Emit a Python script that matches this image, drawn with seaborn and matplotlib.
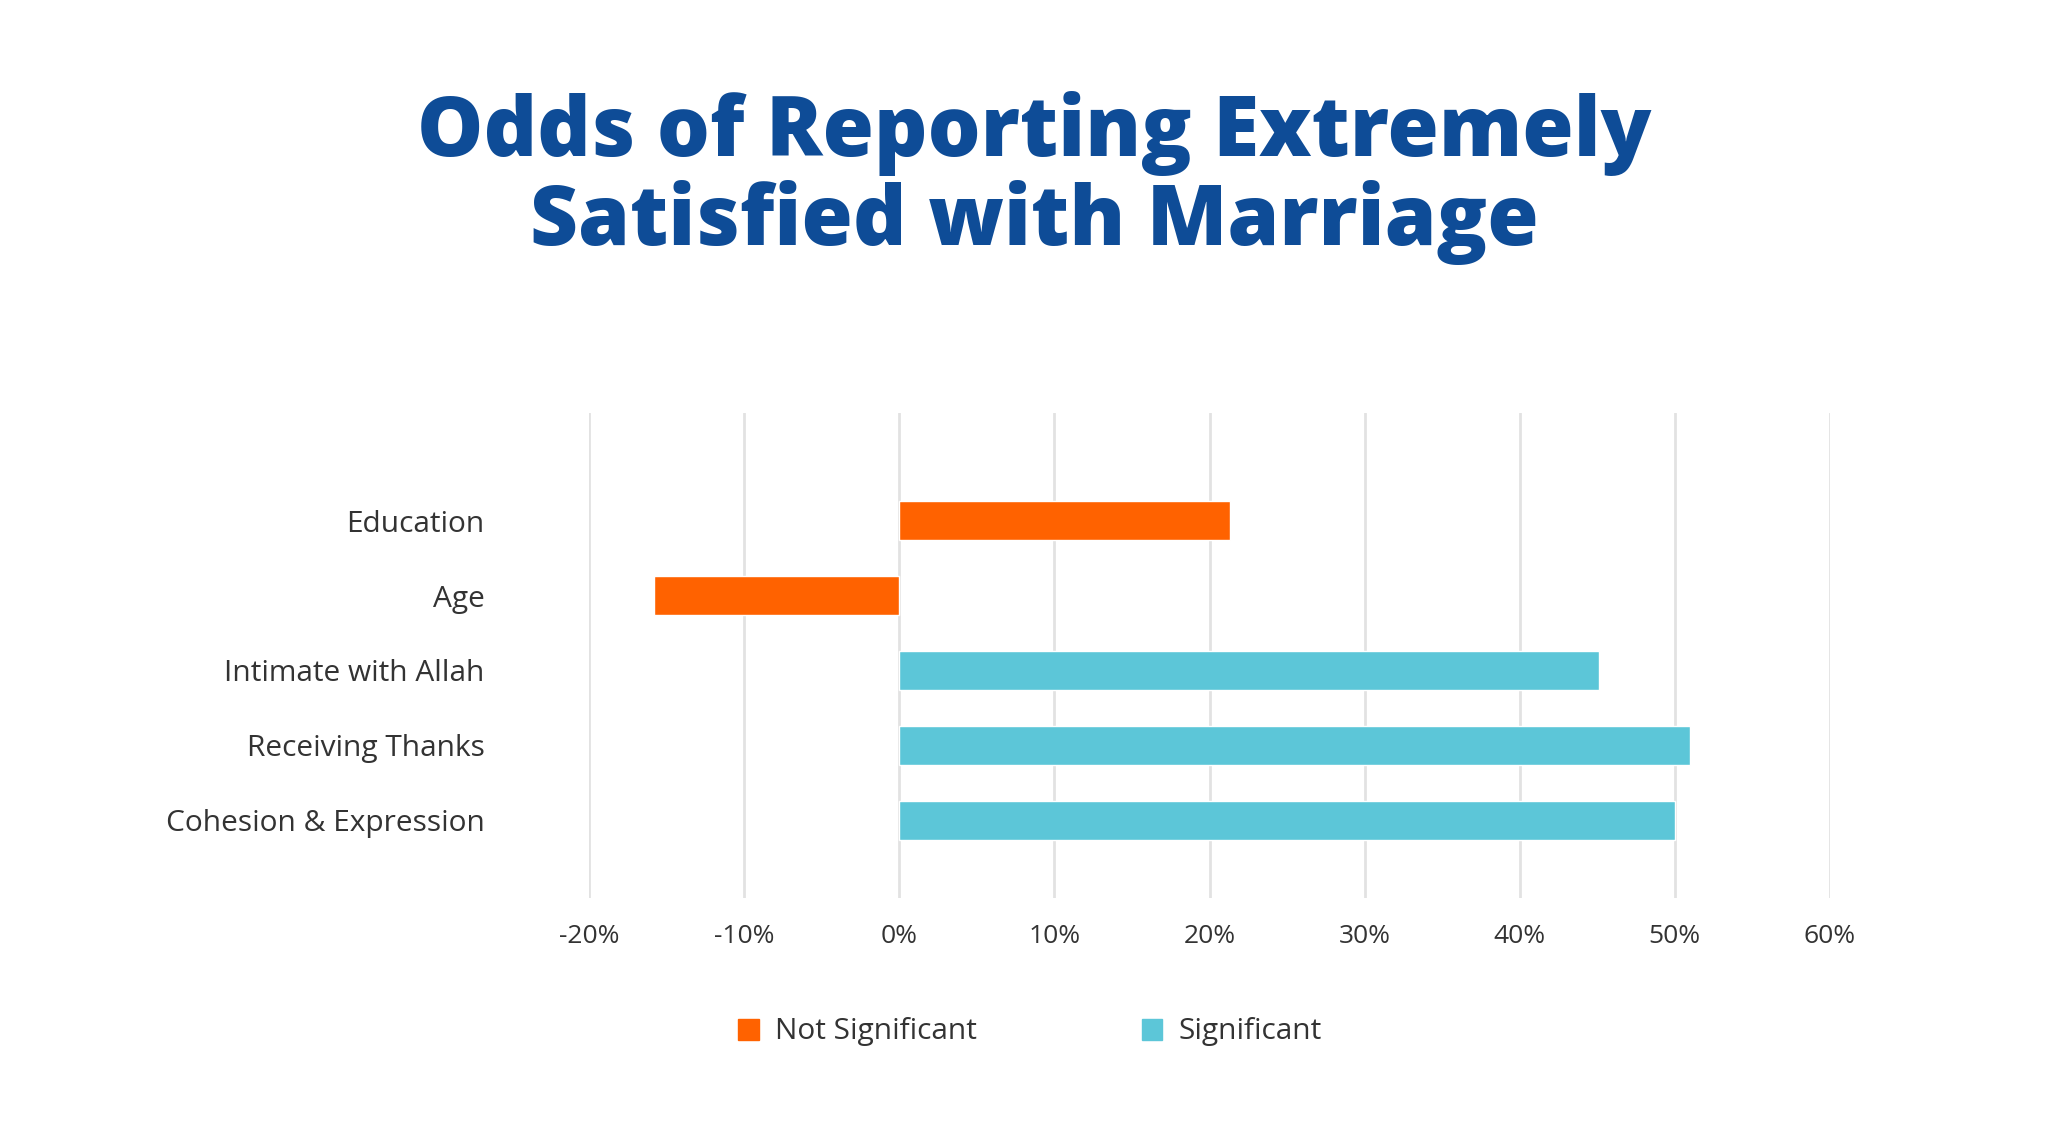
import pandas as pd
import matplotlib.pyplot as plt
import seaborn as sns
from matplotlib.patches import Patch

categories = ["Education", "Age", "Intimate with Allah", "Receiving Thanks", "Cohesion & Expression"]
values = [21.3, -15.8, 45.1, 51.0, 50.0]
significance = ["Not Significant", "Not Significant", "Significant", "Significant", "Significant"]
x_ticks = [-20, -10, 0, 10, 20, 30, 40, 50, 60]
colors = {"Not Significant": "#ff6200", "Significant": "#5cc6d8"}

df = pd.DataFrame({"factor": categories, "odds": values, "sig": significance})

sns.set_style("white")
plt.rcParams["font.family"] = ["Open Sans", "DejaVu Sans"]

fig = plt.figure(figsize=(20.48, 11.4), dpi=100)
ax = fig.add_axes([589 / 2048, 1 - 898 / 1140, (1830 - 589) / 2048, (898 - 413) / 1140])

sns.barplot(data=df, x="odds", y="factor", hue="sig", palette=colors,
            dodge=False, width=0.52, saturation=1, ax=ax, zorder=3)
ax.get_legend().remove()

ax.set_xlim(-20, 60)
ax.set_ylim(5.04, -1.44)
ax.set_xticks(x_ticks)
ax.set_xticklabels([f"{t}%" for t in x_ticks])
ax.grid(axis="x", color="#e2e2e2", linewidth=2, zorder=0)
ax.grid(axis="y", visible=False)
for s in ax.spines.values():
    s.set_visible(False)
ax.set_xlabel("")
ax.set_ylabel("")
ax.tick_params(axis="x", length=0, pad=19, labelsize=19, labelcolor="#333333")
ax.tick_params(axis="y", length=0, pad=75, labelsize=21.5, labelcolor="#333333")

fig.suptitle("Odds of Reporting Extremely\nSatisfied with Marriage", x=0.505, y=0.92,
             fontsize=60, fontweight="heavy", color="#0e4c97", linespacing=1.06, va="top")

handles = [Patch(color=colors[k]) for k in ["Not Significant", "Significant"]]
fig.legend(handles, ["Not Significant", "Significant"], loc="center", bbox_to_anchor=(0.503, 1 - 1032 / 1140),
           ncol=2, frameon=False, fontsize=21.5, handlelength=0.7, handleheight=0.7,
           handletextpad=0.55, columnspacing=5.5, labelcolor="#333333")

fig.savefig("out.png", dpi=100, facecolor="white")
